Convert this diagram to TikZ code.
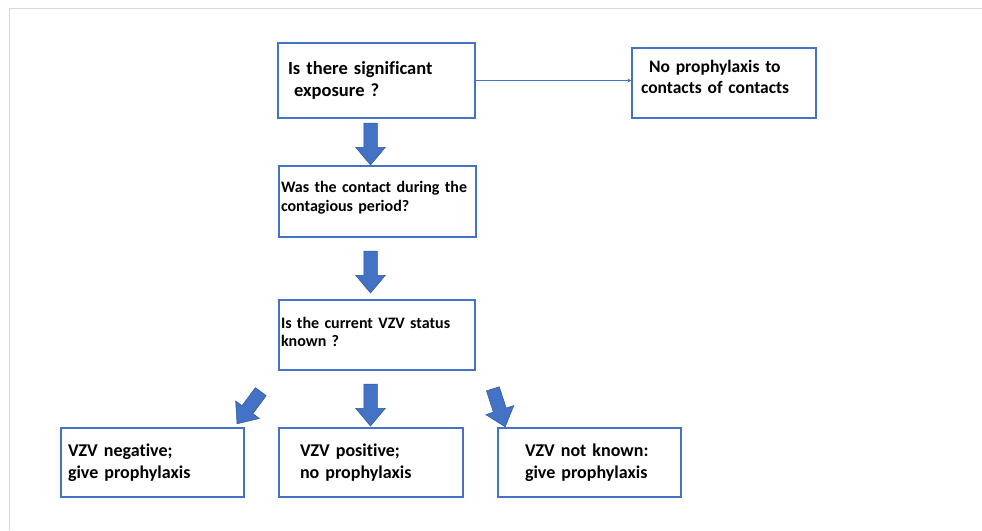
\documentclass[tikz,border=0pt]{standalone}
\usepackage{fontspec}
\setmainfont{Carlito}[Ligatures=NoCommon]
\usepackage{tikz}
\usetikzlibrary{arrows.meta}
\usetikzlibrary{shapes.arrows}

\definecolor{boxblue}{RGB}{68,114,196}
\definecolor{framegray}{RGB}{217,217,217}

\begin{document}
\begin{tikzpicture}[
    x=1pt, y=-1pt,
    every node/.style={font=\bfseries},
    qbox/.style={draw=boxblue, line width=1.2pt, align=left},
    bigtxt/.style={font=\fontsize{18}{22}\selectfont\bfseries},
    midtxt/.style={font=\fontsize{16}{18.5}\selectfont\bfseries},
    bigarr/.style={single arrow, draw=boxblue!75!black, fill=boxblue, line width=0.5pt, minimum width=29pt, single arrow head extend=8pt, single arrow tip angle=80, inner xsep=0pt, inner ysep=6.5pt},
    thinarr/.style={-{Stealth[length=4pt, width=4pt]}, draw=boxblue, line width=0.8pt}
]

\useasboundingbox (0,0) rectangle (982,530);
\draw[framegray, line width=1pt] (9,530) -- (9,8) -- (982,8);

% Top: exposure question and side outcome
\node[qbox, font=\fontsize{18.5}{22}\selectfont\bfseries, text width=177pt, inner xsep=10pt, minimum height=75pt] (sig) at (376.5,80.5) {Is there significant\\\mbox{} exposure ?};
\node[qbox, font=\fontsize{17.5}{21}\selectfont\bfseries, text width=166pt, inner xsep=9pt, minimum height=70pt, text depth=33pt] (nopro) at (724,83) {\hspace*{8pt}No prophylaxis to\\contacts of contacts};

\draw[thinarr] (sig.east) -- (sig.east -| nopro.west);

% Middle: the two follow-up questions
\node[qbox, midtxt, text width=193pt, inner xsep=2pt, minimum height=71pt, text depth=28.5pt] (period) at (377.5,201.5) {Was the contact during the\\contagious period?};
\node[qbox, midtxt, text width=192pt, inner xsep=2pt, minimum height=70pt, text depth=25pt] (status) at (377,335) {Is the current VZV status\\known ?};

% Bottom: outcomes
\node[qbox, bigtxt, text width=169pt, inner xsep=7pt, minimum height=69pt] (neg) at (152.5,462.5) {VZV negative;\\give prophylaxis};
\node[qbox, bigtxt, text width=142pt, inner xsep=21pt, minimum height=69pt] (pos) at (371,462.5) {VZV positive;\\no prophylaxis};
\node[qbox, bigtxt, text width=129pt, inner xsep=27pt, minimum height=69pt] (unk) at (589.5,462.5) {VZV not known:\\give prophylaxis};

% Block arrows
\node[bigarr, minimum height=42pt, rotate=-90] (step1) at (370.5,140) {};
\node[bigarr, minimum height=42pt, rotate=-90] (step2) at (370.5,268) {};
\node[bigarr, minimum height=42pt, rotate=-90] (step3) at (370.5,401) {};
\node[bigarr, minimum height=40pt, rotate=233.5] (stepL) at (251.3,404.5) {};
\node[bigarr, minimum height=40pt, rotate=-72] (stepR) at (497.8,404) {};

\end{tikzpicture}
\end{document}
